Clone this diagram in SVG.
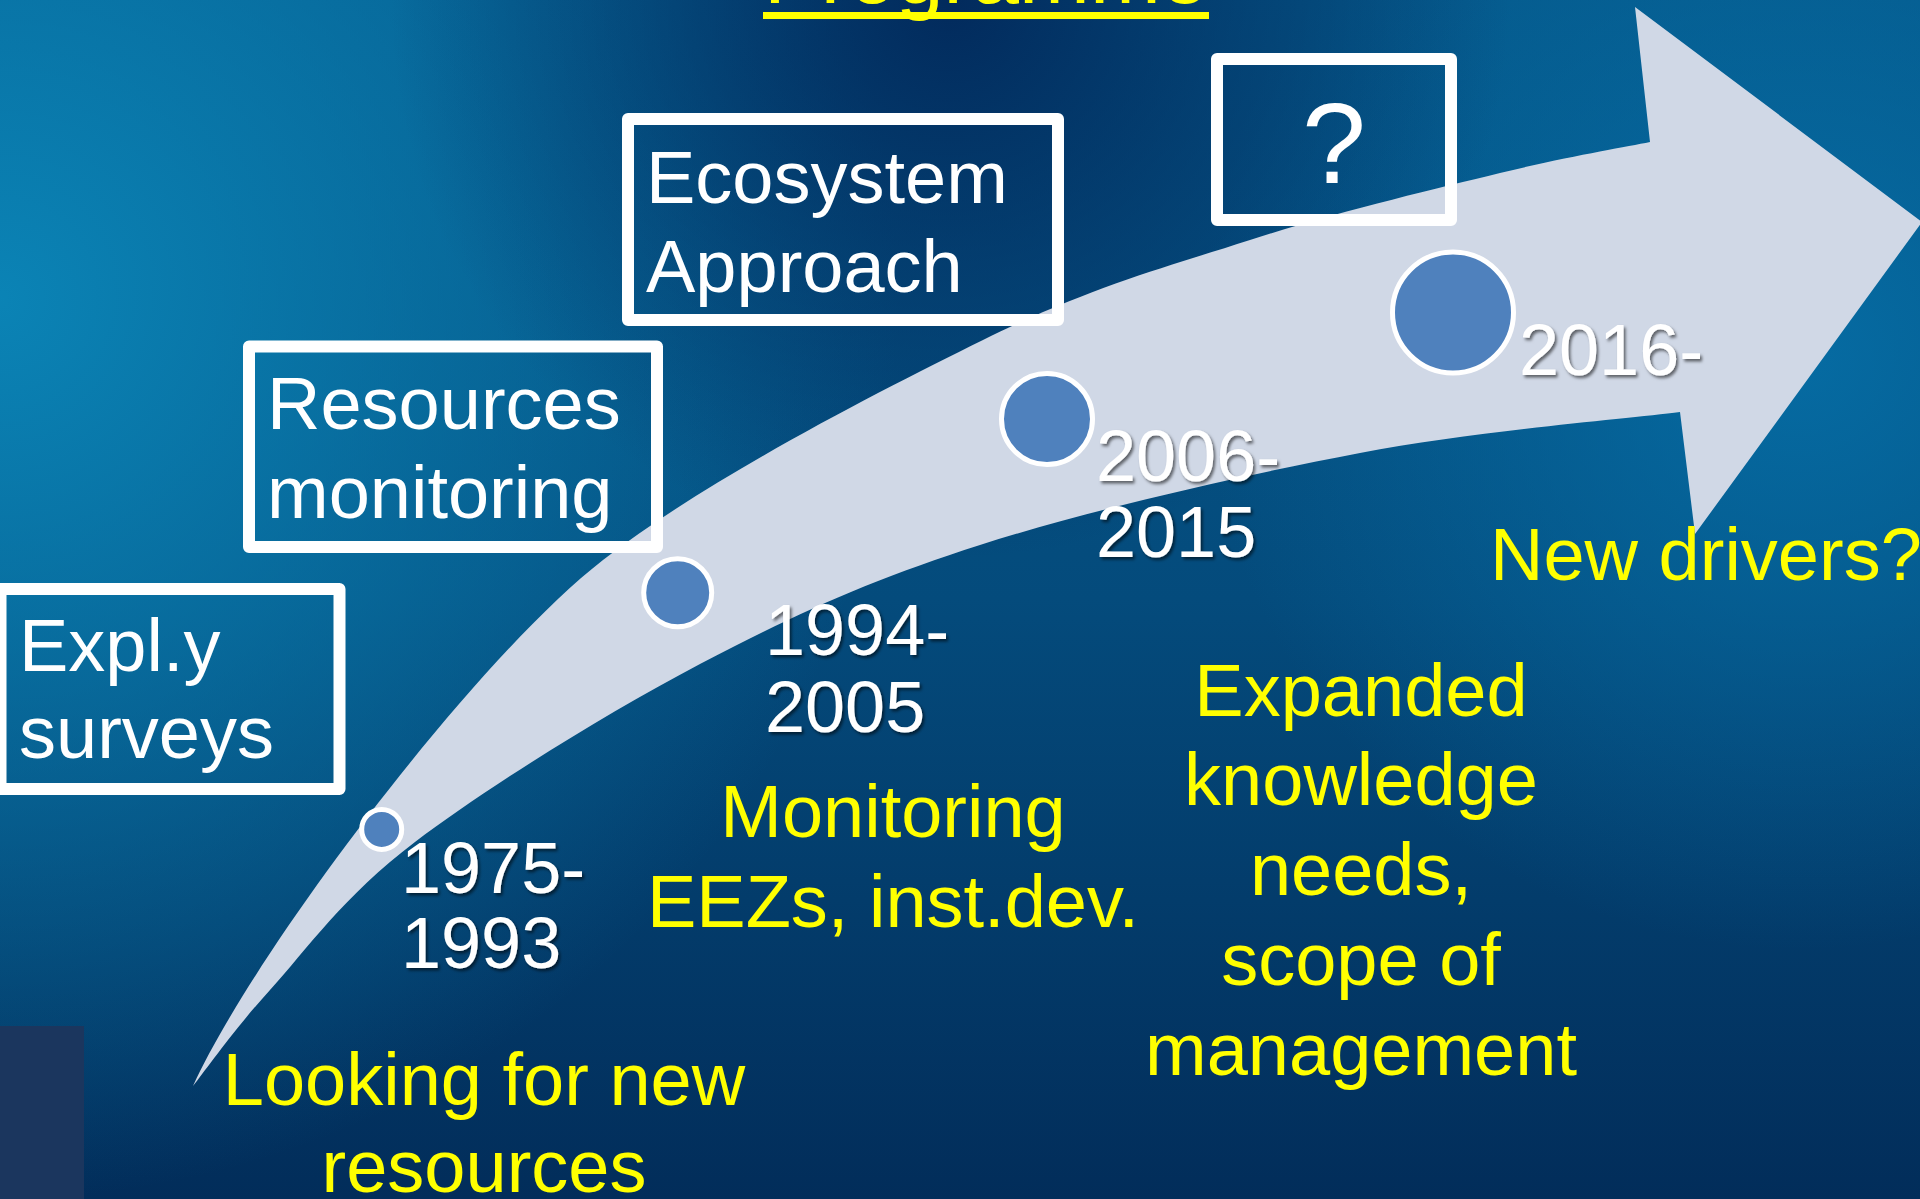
<svg xmlns="http://www.w3.org/2000/svg" width="1920" height="1199" viewBox="0 0 1920 1199">
  <defs>
    <linearGradient id="bgBase" x1="0" y1="0" x2="0" y2="1">
      <stop offset="0" stop-color="#05588a"/>
      <stop offset="0.5" stop-color="#044b7c"/>
      <stop offset="1" stop-color="#022d5a"/>
    </linearGradient>
    <radialGradient id="bgLeft" gradientUnits="userSpaceOnUse" cx="0" cy="300" r="900">
      <stop offset="0" stop-color="#0b86b8" stop-opacity="0.95"/>
      <stop offset="1" stop-color="#0b86b8" stop-opacity="0"/>
    </radialGradient>
    <radialGradient id="bgRight" gradientUnits="userSpaceOnUse" cx="1800" cy="350" r="600">
      <stop offset="0" stop-color="#0670a8" stop-opacity="0.85"/>
      <stop offset="1" stop-color="#0670a8" stop-opacity="0"/>
    </radialGradient>
    <radialGradient id="bgTop" gradientUnits="userSpaceOnUse" cx="950" cy="0" r="560">
      <stop offset="0" stop-color="#02285a" stop-opacity="0.95"/>
      <stop offset="1" stop-color="#02285a" stop-opacity="0"/>
    </radialGradient>
    <filter id="shadow" x="-10%" y="-10%" width="130%" height="130%">
      <feDropShadow dx="2" dy="2.5" stdDeviation="1.5" flood-color="#000" flood-opacity="0.55"/>
    </filter>
    <style>
      .box { fill: none; stroke: #ffffff; stroke-width: 12; stroke-linejoin: round; }
      .boxtxt { font-family: "Liberation Sans", Arial, sans-serif; font-size: 74px; fill: #ffffff; }
      .date { font-family: "Liberation Sans", Arial, sans-serif; font-size: 72px; fill: #ffffff; filter: url(#shadow); }
      .yel { font-family: "Liberation Sans", Arial, sans-serif; font-size: 74px; fill: #ffff00; }
      .dot { fill: #4f81bd; stroke: #ffffff; stroke-width: 5; }
    </style>
  </defs>

  <!-- background -->
  <rect x="0" y="0" width="1920" height="1199" fill="url(#bgBase)"/>
  <rect x="0" y="0" width="1920" height="1199" fill="url(#bgLeft)"/>
  <rect x="0" y="0" width="1920" height="1199" fill="url(#bgRight)"/>
  <rect x="0" y="0" width="1920" height="1199" fill="url(#bgTop)"/>
  <rect x="0" y="1026" width="84" height="173" fill="#1b365e"/>

  <!-- title (cut off at top) -->
  <g id="title">
    <text x="986" y="3" text-anchor="middle" font-family="Liberation Sans, Arial, sans-serif" font-size="85" fill="#ffff00">Programme</text>
    <rect x="763" y="12" width="446" height="7" fill="#ffff00"/>
  </g>

  <!-- curved arrow -->
  <g id="connectors">
    <path id="arrow" fill="#d0d8e6" d="M193,1086 C253,954 473,661 603,560 C708.5,478.3 875.2,393.3 983,340 C1090.8,286.7 1163.8,267.8 1250,240 C1336.2,212.2 1433.3,189.3 1500,173 C1566.7,156.7 1625,147.2 1650,142 L1635,7 L1922,222 L1695,534 L1680,412 C1626.7,418.8 1476.7,430.8 1360,453 C1243.3,475.2 1090,509.8 980,545 C870,580.2 794.2,614.5 700,664 C605.8,713.5 486.7,787.7 415,842 C343.3,896.3 307,949.3 270,990 C233,1030.7 205.8,1070 193,1086 Z"/>
  </g>

  <!-- boxes -->
  <g id="box-expl">
    <rect class="box" x="0.5" y="589" width="339" height="200"/>
    <text class="boxtxt" x="19" y="671">Expl.y</text>
    <text class="boxtxt" x="19" y="758">surveys</text>
  </g>
  <g id="box-resources">
    <rect class="box" x="249" y="346.5" width="408" height="200.5"/>
    <text class="boxtxt" x="267" y="429">Resources</text>
    <text class="boxtxt" x="267" y="518">monitoring</text>
  </g>
  <g id="box-ecosystem">
    <rect class="box" x="628" y="119" width="430" height="201"/>
    <text class="boxtxt" x="646" y="203">Ecosystem</text>
    <text class="boxtxt" x="646" y="292">Approach</text>
  </g>
  <g id="box-question">
    <rect class="box" x="1217" y="59" width="234" height="161"/>
    <text x="1334" y="183" text-anchor="middle" font-family="Liberation Sans, Arial, sans-serif" font-size="115" fill="#ffffff">?</text>
  </g>

  <!-- milestones -->
  <g id="m1975">
    <circle class="dot" cx="381.7" cy="829.4" r="20" stroke-width="4"/>
    <text class="date" x="401" y="893">1975-</text>
    <text class="date" x="401" y="968">1993</text>
  </g>
  <g id="m1994">
    <circle class="dot" cx="677.7" cy="592.7" r="34"/>
    <text class="date" x="765" y="655">1994-</text>
    <text class="date" x="765" y="732">2005</text>
  </g>
  <g id="m2006">
    <circle class="dot" cx="1047" cy="419" r="45.5"/>
    <text class="date" x="1096" y="481">2006-</text>
    <text class="date" x="1096" y="557">2015</text>
  </g>
  <g id="m2016">
    <circle class="dot" cx="1453" cy="312.5" r="60.5"/>
    <text class="date" x="1519" y="375">2016-</text>
  </g>

  <!-- yellow descriptions -->
  <g id="d-looking">
    <text class="yel" x="484" y="1105" text-anchor="middle">Looking for new</text>
    <text class="yel" x="484" y="1192" text-anchor="middle">resources</text>
  </g>
  <g id="d-monitoring">
    <text class="yel" x="893" y="837" text-anchor="middle" font-size="72">Monitoring</text>
    <text class="yel" x="893" y="927" text-anchor="middle" font-size="72">EEZs, inst.dev.</text>
  </g>
  <g id="d-expanded">
    <text class="yel" x="1361" y="716" text-anchor="middle">Expanded</text>
    <text class="yel" x="1361" y="805" text-anchor="middle">knowledge</text>
    <text class="yel" x="1361" y="895" text-anchor="middle">needs,</text>
    <text class="yel" x="1361" y="985" text-anchor="middle">scope of</text>
    <text class="yel" x="1361" y="1075" text-anchor="middle">management</text>
  </g>
  <g id="d-new">
    <text class="yel" x="1490" y="580" font-size="72">New drivers?</text>
  </g>
</svg>
